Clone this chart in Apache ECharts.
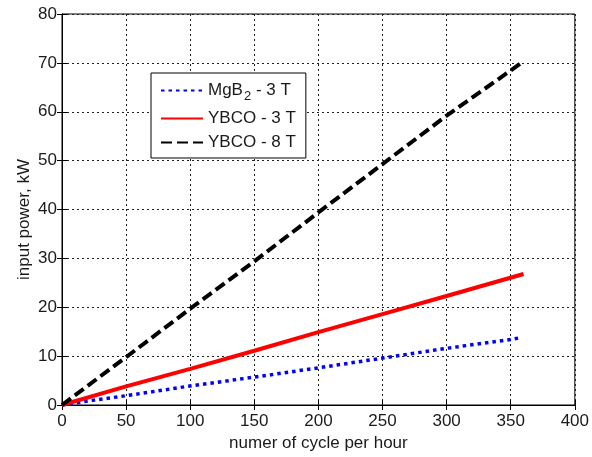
<!DOCTYPE html>
<html>
<head>
<meta charset="utf-8">
<script src="https://cdn.jsdelivr.net/npm/echarts@6/dist/echarts.min.js"></script>
<style>html,body{margin:0;padding:0;background:#fff}#c{width:592px;height:457px}</style>
</head>
<body>
<div id="c"></div>
<script>
// Data
var seriesNames = ['MgB2 - 3 T', 'YBCO - 3 T', 'YBCO - 8 T'];
var mgb2X = [0, 25, 50, 100, 150, 200, 250, 300, 350, 356];
var mgb2Y = [0, 1.0, 1.9, 3.9, 5.7, 7.6, 9.6, 11.6, 13.4, 13.7];
var ybco3X = [0, 50, 100, 150, 200, 250, 300, 360];
var ybco3Y = [0, 3.8, 7.4, 11.1, 14.9, 18.6, 22.3, 26.8];
var ybco8X = [0, 50, 100, 150, 200, 250, 300, 360];
var ybco8Y = [0, 9.8, 19.7, 29.4, 39.4, 49.3, 59.2, 70.3];
var xTicks = [0, 50, 100, 150, 200, 250, 300, 350, 400];
var yTicks = [0, 10, 20, 30, 40, 50, 60, 70, 80];

function pairs(xs, ys) { return xs.map(function (x, i) { return [x, ys[i]]; }); }

var FONT = '"Liberation Sans", Arial, sans-serif';
var TXT = '#1a1a1a';
var chart = echarts.init(document.getElementById('c'), null, {renderer: 'canvas'});

var gridLine = {show: true, lineStyle: {color: '#222', type: [2, 3], width: 1}};
var tick = {show: true, inside: true, length: 5, lineStyle: {color: '#000'}};

chart.setOption({
  animation: false,
  backgroundColor: '#fff',
  grid: {left: 62, right: 16, top: 14, bottom: 51, show: true, borderColor: '#000', borderWidth: 1},
  legend: {
    orient: 'vertical', left: 151, top: 73,
    padding: [9, 10, 7, 9],
    backgroundColor: '#fff', borderColor: '#000', borderWidth: 1,
    itemWidth: 42, itemHeight: 10, itemGap: 7,
    itemStyle: {opacity: 0},
    data: seriesNames,
    formatter: function (n) {
      if (n === 'MgB2 - 3 T') return '{n|MgB}{s|2}{n| - 3 T}';
      return '{n|' + n + '}';
    },
    textStyle: {
      fontFamily: FONT, fontSize: 17, color: TXT,
      rich: {
        n: {fontFamily: FONT, fontSize: 17, color: TXT},
        s: {fontFamily: FONT, fontSize: 13, color: TXT, padding: [12, 0, 0, 1]}
      }
    }
  },
  xAxis: [{
    type: 'value', min: xTicks[0], max: xTicks[xTicks.length - 1], interval: 50,
    name: 'numer of cycle per hour', nameLocation: 'middle', nameGap: 30,
    nameTextStyle: {fontFamily: FONT, fontSize: 17, color: TXT},
    axisLine: {show: true, lineStyle: {color: '#000'}},
    axisTick: tick,
    axisLabel: {fontFamily: FONT, fontSize: 17, color: TXT, margin: 8},
    splitLine: gridLine
  }, {
    type: 'value', position: 'top', min: xTicks[0], max: xTicks[xTicks.length - 1], interval: 50,
    axisLine: {show: true, lineStyle: {color: '#000'}},
    axisTick: tick, axisLabel: {show: false}, splitLine: {show: false}
  }],
  yAxis: [{
    type: 'value', min: yTicks[0], max: yTicks[yTicks.length - 1], interval: 10,
    name: 'input power, kW', nameLocation: 'middle', nameGap: 29, nameRotate: 90,
    nameMoveOverlap: false,
    nameTextStyle: {fontFamily: FONT, fontSize: 17, color: TXT, padding: [0, 0, 0, -20]},
    axisLine: {show: true, lineStyle: {color: '#000'}},
    axisTick: tick,
    axisLabel: {fontFamily: FONT, fontSize: 17, color: TXT, margin: 5},
    splitLine: gridLine
  }, {
    type: 'value', position: 'right', min: yTicks[0], max: yTicks[yTicks.length - 1], interval: 10,
    axisLine: {show: true, lineStyle: {color: '#000'}},
    axisTick: tick, axisLabel: {show: false}, splitLine: {show: false}
  }],
  series: [{
    name: seriesNames[0], type: 'line', showSymbol: false, symbol: 'none',
    data: pairs(mgb2X, mgb2Y),
    lineStyle: {color: '#0000ff', width: 3.5, type: [3.5, 4]},
    itemStyle: {color: '#0000ff'}
  }, {
    name: seriesNames[1], type: 'line', showSymbol: false, symbol: 'none',
    data: pairs(ybco3X, ybco3Y),
    lineStyle: {color: '#ff0000', width: 4, type: 'solid'},
    itemStyle: {color: '#ff0000'}
  }, {
    name: seriesNames[2], type: 'line', showSymbol: false, symbol: 'none',
    data: pairs(ybco8X, ybco8Y),
    lineStyle: {color: '#000000', width: 4, type: [11, 5]},
    itemStyle: {color: '#000000'}
  }]
});
</script>
</body>
</html>
